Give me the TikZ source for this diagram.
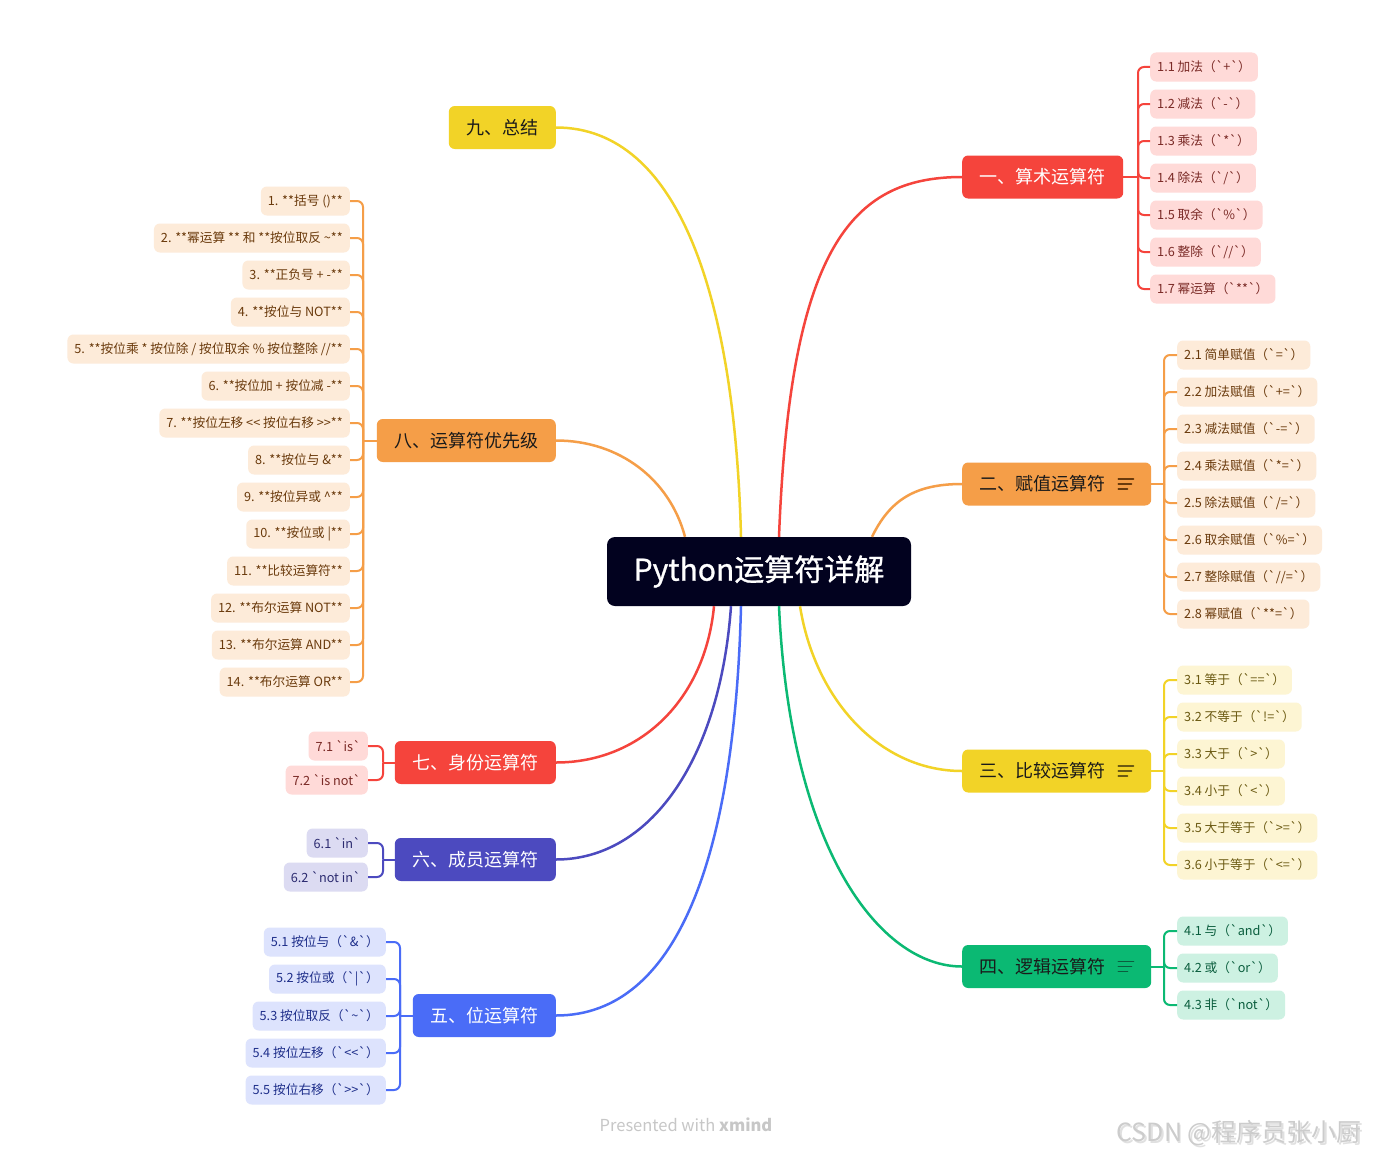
\documentclass[tikz,border=0pt]{standalone}
\usepackage{fontspec}
\newfontfamily\cjk{Noto Sans CJK SC}
\newfontfamily\cjkm{Noto Sans CJK SC}[FakeBold=0.9]
\usetikzlibrary{calc}
\definecolor{cRed}{HTML}{F5443C}
\definecolor{cOrange}{HTML}{F59E48}
\definecolor{cYellow}{HTML}{F2D327}
\definecolor{cGreen}{HTML}{0BB973}
\definecolor{cBlue}{HTML}{4A6CF7}
\definecolor{cIndigo}{HTML}{4C4ABF}
\definecolor{lRed}{HTML}{FFDAD8}
\definecolor{lOrange}{HTML}{FDEBD9}
\definecolor{lYellow}{HTML}{FDF5D3}
\definecolor{lGreen}{HTML}{CDF1E2}
\definecolor{lBlue}{HTML}{DDE3FD}
\definecolor{lIndigo}{HTML}{DCDBF2}
\definecolor{tRed}{HTML}{7A2A26}
\definecolor{tOrange}{HTML}{6A3A0C}
\definecolor{tYellow}{HTML}{6B5A12}
\definecolor{tGreen}{HTML}{0B5E3E}
\definecolor{tBlue}{HTML}{1E2E8A}
\definecolor{tIndigo}{HTML}{2C2B70}
\definecolor{tDark}{HTML}{1A1A1A}
\definecolor{cCenter}{HTML}{02021F}
\tikzset{
  mainbox/.style={rounded corners=6pt, minimum height=43pt, inner sep=0pt, font=\cjk\fontsize{18}{20}\selectfont},
  leafbox/.style={rounded corners=6pt, minimum height=29pt, inner xsep=7pt, inner ysep=0pt, font=\cjk\fontsize{12.7}{14}\selectfont},
  conn/.style={line width=2.5pt},
  lconn/.style={line width=2pt, rounded corners=6pt},
  iconline/.style={line width=1.8pt, line cap=round}
}
\begin{document}
\begin{tikzpicture}[x=1pt,y=-1pt]
\useasboundingbox (0,0) rectangle (1373,1156);
\fill[white] (0,0) rectangle (1373,1156);

% center
\node[rounded corners=8pt, fill=cCenter, text=white, minimum width=304pt, minimum height=69pt, inner sep=0pt,
  font=\cjkm\fontsize{30}{32}\selectfont] (c) at (759,571.5) {Python运算符详解};

% main branches
\node[mainbox, fill=cRed, text=white, minimum width=161pt, anchor=west] (m1) at (962,177) {一、算术运算符};
\node[mainbox, fill=cOrange, text=tDark, minimum width=189pt, anchor=west] (m2) at (962,484) {二、赋值运算符\rule{29pt}{0pt}};
\node[mainbox, fill=cYellow, text=tDark, minimum width=189pt, anchor=west] (m3) at (962,771) {三、比较运算符\rule{29pt}{0pt}};
\node[mainbox, fill=cGreen, text=tDark, minimum width=189pt, anchor=west] (m4) at (962,966.5) {四、逻辑运算符\rule{29pt}{0pt}};
\node[mainbox, fill=cBlue, text=white, minimum width=143pt, anchor=east] (m5) at (556,1015.5) {五、位运算符};
\node[mainbox, fill=cIndigo, text=white, minimum width=161pt, anchor=east] (m6) at (556,859.5) {六、成员运算符};
\node[mainbox, fill=cRed, text=white, minimum width=161pt, anchor=east] (m7) at (556,762.5) {七、身份运算符};
\node[mainbox, fill=cOrange, text=tDark, minimum width=179pt, anchor=east] (m8) at (556,440.5) {八、运算符优先级};
\node[mainbox, fill=cYellow, text=tDark, minimum width=107pt, anchor=east] (m9) at (556,127.5) {九、总结};

% note icons
\foreach \n/\col in {m2/tOrange, m3/tYellow, m4/tGreen}{
  \draw[iconline, \col] ($(\n.east)+(-33,-5)$) -- ++(15,0);
  \draw[iconline, \col] ($(\n.east)+(-33,0)$) -- ++(13,0);
  \draw[iconline, \col] ($(\n.east)+(-33,5)$) -- ++(9,0);
}

% main connectors
\draw[conn, cRed] ([xshift=20pt]c.north) .. controls (790,250) and (850,177) .. (m1.west);
\draw[conn, cOrange] ([xshift=113pt]c.north) .. controls (890,500) and (915,484) .. (m2.west);
\draw[conn, cYellow] ([xshift=41pt]c.south) .. controls (815,700) and (880,771) .. (m3.west);
\draw[conn, cGreen] ([xshift=20pt]c.south) .. controls (790,850) and (880,966.5) .. (m4.west);
\draw[conn, cBlue] ([xshift=-18pt]c.south) .. controls (735,850) and (680,1015.5) .. (m5.east);
\draw[conn, cIndigo] ([xshift=-28pt]c.south) .. controls (720,760) and (650,859.5) .. (m6.east);
\draw[conn, cRed] ([xshift=-45pt]c.south) .. controls (705,700) and (640,762.5) .. (m7.east);
\draw[conn, cOrange] ([xshift=-74pt]c.north) .. controls (670,480) and (620,440.5) .. (m8.east);
\draw[conn, cYellow] ([xshift=-18pt]c.north) .. controls (735,300) and (680,127.5) .. (m9.east);

% group 1
\coordinate (s1) at (1138,177);
\draw[lconn, cRed] (m1.east) -- (s1);
\foreach \t [count=\i] in {{1.1 加法（`+`）},{1.2 减法（`-`）},{1.3 乘法（`*`）},{1.4 除法（`/`）},{1.5 取余（`\%`）},{1.6 整除（`//`）},{1.7 幂运算（`**`）}}{
  \node[leafbox, fill=lRed, text=tRed, anchor=west] (l1\i) at (1150,{67+37*(\i-1)}) {\t};
  \draw[lconn, cRed] (s1) |- (l1\i.west);
}

% group 2
\coordinate (s2) at (1164,484);
\draw[lconn, cOrange] (m2.east) -- (s2);
\foreach \t [count=\i] in {{2.1 简单赋值（`=`）},{2.2 加法赋值（`+=`）},{2.3 减法赋值（`-=`）},{2.4 乘法赋值（`*=`）},{2.5 除法赋值（`/=`）},{2.6 取余赋值（`\%=`）},{2.7 整除赋值（`//=`）},{2.8 幂赋值（`**=`）}}{
  \node[leafbox, fill=lOrange, text=tOrange, anchor=west] (l2\i) at (1177,{355+37*(\i-1)}) {\t};
  \draw[lconn, cOrange] (s2) |- (l2\i.west);
}

% group 3
\coordinate (s3) at (1164,771);
\draw[lconn, cYellow] (m3.east) -- (s3);
\foreach \t [count=\i] in {{3.1 等于（`==`）},{3.2 不等于（`!=`）},{3.3 大于（`>`）},{3.4 小于（`<`）},{3.5 大于等于（`>=`）},{3.6 小于等于（`<=`）}}{
  \node[leafbox, fill=lYellow, text=tYellow, anchor=west] (l3\i) at (1177,{680+37*(\i-1)}) {\t};
  \draw[lconn, cYellow] (s3) |- (l3\i.west);
}

% group 4
\coordinate (s4) at (1164,966.5);
\draw[lconn, cGreen] (m4.east) -- (s4);
\foreach \t [count=\i] in {{4.1 与（`and`）},{4.2 或（`or`）},{4.3 非（`not`）}}{
  \node[leafbox, fill=lGreen, text=tGreen, anchor=west] (l4\i) at (1177,{931+37*(\i-1)}) {\t};
  \draw[lconn, cGreen] (s4) |- (l4\i.west);
}

% group 5
\coordinate (s5) at (400,1015.5);
\draw[lconn, cBlue] (m5.west) -- (s5);
\foreach \t [count=\i] in {{5.1 按位与（`\&`）},{5.2 按位或（`|`）},{5.3 按位取反（`\textasciitilde`）},{5.4 按位左移（`<<`）},{5.5 按位右移（`>>`）}}{
  \node[leafbox, fill=lBlue, text=tBlue, anchor=east] (l5\i) at (386,{942+37*(\i-1)}) {\t};
  \draw[lconn, cBlue] (s5) |- (l5\i.east);
}

% group 6
\coordinate (s6) at (383,859.5);
\draw[lconn, cIndigo] (m6.west) -- (s6);
\foreach \t [count=\i] in {{6.1 `in`},{6.2 `not in`}}{
  \node[leafbox, fill=lIndigo, text=tIndigo, anchor=east] (l6\i) at (368,{843+34*(\i-1)}) {\t};
  \draw[lconn, cIndigo] (s6) |- (l6\i.east);
}

% group 7
\coordinate (s7) at (383,762.5);
\draw[lconn, cRed] (m7.west) -- (s7);
\foreach \t [count=\i] in {{7.1 `is`},{7.2 `is not`}}{
  \node[leafbox, fill=lRed, text=tRed, anchor=east] (l7\i) at (368,{746+34*(\i-1)}) {\t};
  \draw[lconn, cRed] (s7) |- (l7\i.east);
}

% group 8
\coordinate (s8) at (363,440.5);
\draw[lconn, cOrange] (m8.west) -- (s8);
\foreach \t [count=\i] in {{1. **括号 ()**},{2. **幂运算 ** 和 **按位取反 \textasciitilde**},{3. **正负号 + -**},{4. **按位与 NOT**},{5. **按位乘 * 按位除 / 按位取余 \% 按位整除 //**},{6. **按位加 + 按位减 -**},{7. **按位左移 << 按位右移 >>**},{8. **按位与 \&**},{9. **按位异或 \textasciicircum**},{10. **按位或 |**},{11. **比较运算符**},{12. **布尔运算 NOT**},{13. **布尔运算 AND**},{14. **布尔运算 OR**}}{
  \node[leafbox, fill=lOrange, text=tOrange, anchor=east] (l8\i) at (350,{201+37*(\i-1)}) {\t};
  \draw[lconn, cOrange] (s8) |- (l8\i.east);
}

% footer
\node[font=\cjk\fontsize{16.5}{18}\selectfont, text=black!22] (foot) at (686,1125) {Presented with \textbf{xmind}};
\node[font=\cjk\fontsize{25}{27}\selectfont, text=black!12] (wmshadow) at (1240.8,1134.8) {CSDN @程序员张小厨};
\node[font=\cjk\fontsize{25}{27}\selectfont, text=black!20] (wm) at (1239,1133) {CSDN @程序员张小厨};
\end{tikzpicture}
\end{document}
